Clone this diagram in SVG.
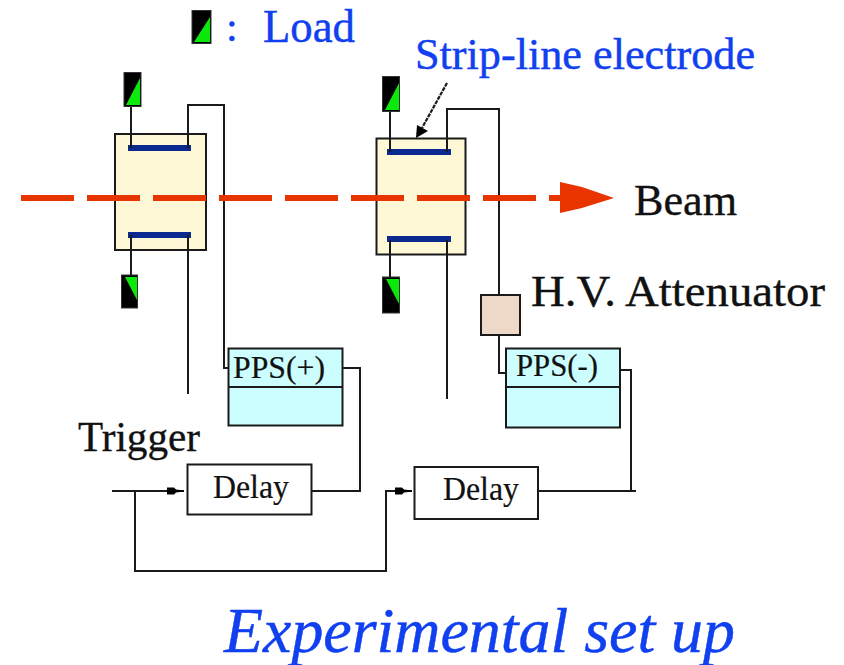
<svg xmlns="http://www.w3.org/2000/svg" width="844" height="665" viewBox="0 0 844 665">
<defs>
<style>
text{font-family:"Liberation Serif","Times New Roman",serif}
.blue{fill:#1040f0;stroke:#1040f0;stroke-width:.45}
.blk{fill:#111;stroke:#111;stroke-width:.35}
.thin{stroke-width:.2}
.w{fill:none;stroke:#1a1a1a;stroke-width:2}
.box{stroke:#1a1a1a;stroke-width:2}
.el{fill:#0a2a90}
.load{fill:#000;stroke:#333;stroke-width:1}
.g{fill:#0be80b}
</style>
<marker id="small" markerUnits="userSpaceOnUse" markerWidth="18" markerHeight="10" refX="17" refY="5" orient="auto"><path d="M0 1.500L7 1.500L9 3.500L17 4.500L17 5.500L9 6.500L7 8.500L0 8.500Z" fill="#000"/></marker>
</defs>
<rect width="844" height="665" fill="#fff"/>
<g id="legend">
<rect class="load" x="192" y="10.500" width="19" height="33"/><path class="g" d="M194 42L210 42L210 17Z"/>
<text class="blue" x="226" y="41" font-size="42">:</text>
<text class="blue" x="263" y="42" font-size="47" textLength="92" lengthAdjust="spacingAndGlyphs">Load</text>
</g>
<g id="chamber-left">
<rect class="box" x="115" y="134" width="91" height="116" fill="#fff8d6"/>
<rect class="el" x="128" y="145" width="63" height="6"/>
<rect class="el" x="128" y="232" width="63" height="6"/>
</g>
<g id="chamber-right">
<rect class="box" x="376.500" y="138.500" width="89" height="116" fill="#fff8d6"/>
<rect class="el" x="387" y="149" width="64" height="6"/>
<rect class="el" x="387" y="236" width="64" height="6"/>
</g>
<g id="load-1"><rect class="load" x="124" y="72.500" width="17" height="34"/><path class="g" d="M126 105L140 105L140 78Z"/></g>
<g id="load-2"><rect class="load" x="121.500" y="275" width="16" height="33"/><path class="g" d="M125 277L137 277L137 300Z"/></g>
<g id="load-3"><rect class="load" x="382.500" y="76.500" width="17" height="35"/><path class="g" d="M385 110L399 110L399 83Z"/></g>
<g id="load-4"><rect class="load" x="382.500" y="277" width="17" height="36"/><path class="g" d="M386 279L399 279L399 304Z"/></g>
<g id="connectors">
<path class="w" d="M131 107V148M188 148V105H224V368H228M131 235V275M188 235V394"/>
<path class="w" d="M390 112V152M447 152V109H499V295M390 240V277M447 240V399M499 335V373H506"/>
<path class="w" d="M343 368H360V491H311"/>
<path class="w" d="M112 491H184" marker-end="url(#small)"/>
<path class="w" d="M620 370H631V491M538 491H636"/>
<path class="w" d="M135 491V571H386V491H412" marker-end="url(#small)"/>
<path d="M447 83L422 128" fill="none" stroke="#1a1a1a" stroke-width="2.200" stroke-dasharray="4 1"/>
<path d="M416 138L417 125L428 131Z" fill="#000"/>
<path d="M21 198H562" fill="none" stroke="#e83500" stroke-width="6" stroke-dasharray="53 13"/>
<path d="M560 182L582 187L614 198L582 208L560 213Z" fill="#e83500"/>
</g>
<g id="attenuator"><rect class="box" x="481" y="295" width="39" height="40" fill="#eed9c8"/></g>
<g id="pps-plus">
<rect class="box" x="228.500" y="348.500" width="114" height="77" fill="#ccfdff"/>
<path class="w" d="M228 387H343"/>
<text class="blk thin" x="233" y="378" font-size="31" textLength="92" lengthAdjust="spacingAndGlyphs">PPS(+)</text>
</g>
<g id="pps-minus">
<rect class="box" x="506" y="348.500" width="114" height="79" fill="#ccfdff"/>
<path class="w" d="M506 387H620"/>
<text class="blk thin" x="516" y="376" font-size="31" textLength="82" lengthAdjust="spacingAndGlyphs">PPS(-)</text>
</g>
<g id="delay-1">
<rect class="box" x="187.500" y="464.500" width="124" height="50" fill="#fff"/>
<text class="blk thin" x="213" y="498" font-size="33" textLength="76" lengthAdjust="spacingAndGlyphs">Delay</text>
</g>
<g id="delay-2">
<rect class="box" x="414.500" y="467" width="123.500" height="52" fill="#fff"/>
<text class="blk thin" x="443" y="500" font-size="33" textLength="76" lengthAdjust="spacingAndGlyphs">Delay</text>
</g>
<g id="labels">
<text class="blue" x="415" y="69" font-size="44" textLength="340" lengthAdjust="spacingAndGlyphs">Strip-line electrode</text>
<text class="blk" x="634" y="215" font-size="44" textLength="103" lengthAdjust="spacingAndGlyphs">Beam</text>
<text class="blk" x="531" y="306" font-size="44" textLength="294" lengthAdjust="spacingAndGlyphs">H.V. Attenuator</text>
<text class="blk" x="78" y="451" font-size="42" textLength="122" lengthAdjust="spacingAndGlyphs">Trigger</text>
<text class="blue" x="224" y="652" font-size="64" font-style="italic" textLength="511" lengthAdjust="spacingAndGlyphs">Experimental set up</text>
</g>
</svg>
